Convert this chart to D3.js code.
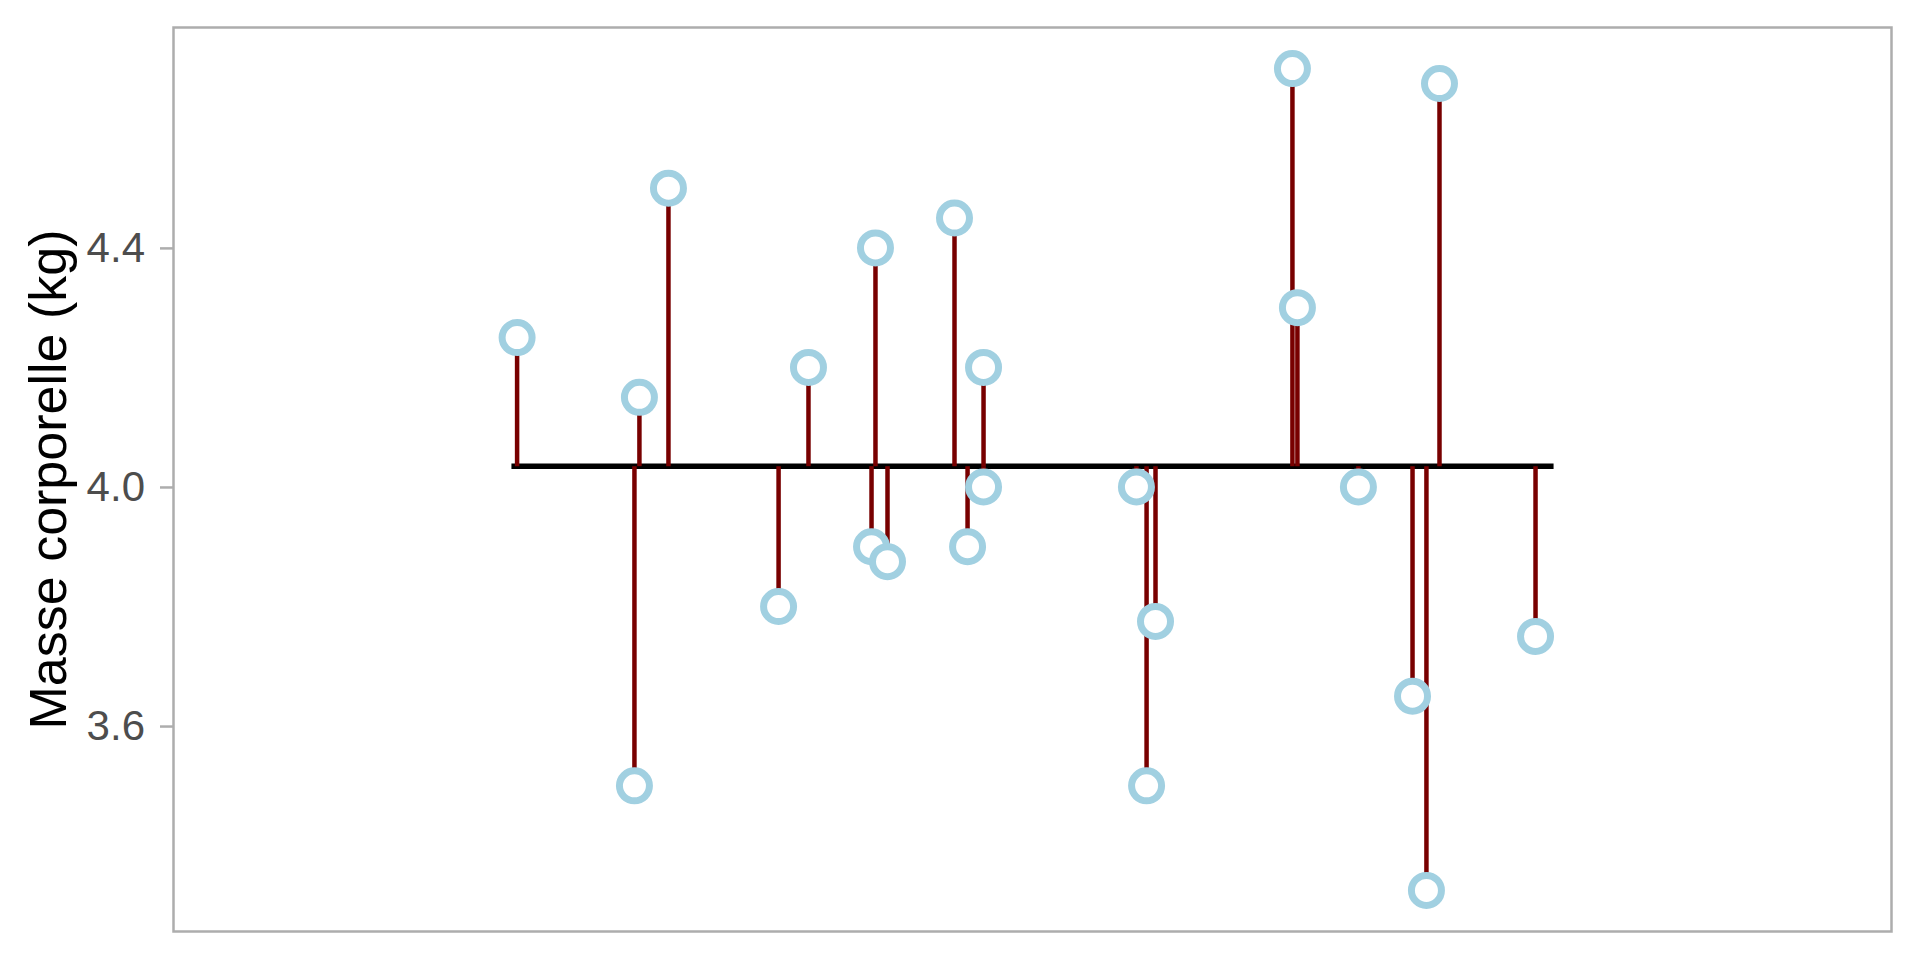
<!DOCTYPE html>
<html>
<head>
<meta charset="utf-8">
<script src="https://cdn.jsdelivr.net/npm/d3@7"></script>
<style>
    body { margin: 0; background: white; }
    svg { display: block; font-family: "Liberation Sans", Arial, sans-serif; }
    .axis text { fill: #4d4d4d; font-size: 42px; }
    .axis line { stroke: #adadad; stroke-width: 2.5px; }
</style>
</head>
<body>
<div id="chart"></div>
<script>

// Body mass of each individual (kg) and its position along the (unlabelled) x variable
let xValues = [20.0, 26.83, 27.12, 28.81, 35.22, 36.96, 40.63, 40.86, 41.56, 45.46, 46.22, 47.15,
    47.15, 56.05, 56.64, 57.16, 65.13, 65.42, 68.97, 72.12, 72.93, 73.69, 79.28];
let masses = [4.25, 3.5, 4.15, 4.5, 3.8, 4.2, 3.9, 4.4, 3.875, 4.45, 3.9, 4.2,
    4.0, 4.0, 3.5, 3.775, 4.7, 4.3, 4.0, 3.65, 3.325, 4.675, 3.75];

let xLimits = [0, 100];
let meanLineX = [19.67, 80.33];
let yTicks = [3.6, 4.0, 4.4];
let yTitle = "Masse corporelle (kg)";

let chart = {
    width : 1920,
    height : 960,
    panel : { left: 173.5, top: 27.5, right: 1891.5, bottom: 931.5 }
};

let data = xValues.map(function (x, i) {
    return {x: x, mass: masses[i]};
});
let meanMass = d3.mean(masses);

let svg = d3.select("#chart")
    .append("svg")
    .attr("width", chart.width)
    .attr("height", chart.height);

// Scales (y expanded by 5% like ggplot)
let extent = d3.extent(masses);
let pad = (extent[1] - extent[0]) * 0.05;

let xScale = d3.scaleLinear()
    .domain(xLimits)
    .range([chart.panel.left, chart.panel.right]);

let yScale = d3.scaleLinear()
    .domain([extent[0] - pad, extent[1] + pad])
    .range([chart.panel.bottom, chart.panel.top]);

// Panel border
svg.append("rect")
    .attr("x", chart.panel.left)
    .attr("y", chart.panel.top)
    .attr("width", chart.panel.right - chart.panel.left)
    .attr("height", chart.panel.bottom - chart.panel.top)
    .attr("fill", "none")
    .attr("stroke", "#adadad")
    .attr("stroke-width", 2.5);

// Y axis
let yAxis = svg.append("g")
    .attr("class", "axis")
    .attr("transform", "translate(" + (chart.panel.left - 0.5) + ",0)")
    .call(d3.axisLeft(yScale)
        .tickValues(yTicks)
        .tickFormat(d3.format(".1f"))
        .tickSize(13)
        .tickPadding(15));
yAxis.select(".domain").remove();

svg.append("text")
    .attr("transform", "translate(66," + ((chart.panel.top + chart.panel.bottom) / 2) + ") rotate(-90)")
    .attr("text-anchor", "middle")
    .attr("font-size", 52)
    .attr("fill", "black")
    .text(yTitle);

// Mean line
svg.append("line")
    .attr("x1", xScale(meanLineX[0]))
    .attr("x2", xScale(meanLineX[1]))
    .attr("y1", yScale(meanMass))
    .attr("y2", yScale(meanMass))
    .attr("stroke", "black")
    .attr("stroke-width", 5.5);

// Segments from the mean to each value
svg.append("g")
    .selectAll("line")
    .data(data)
    .enter()
    .append("line")
    .attr("x1", function (d) { return xScale(d.x) })
    .attr("x2", function (d) { return xScale(d.x) })
    .attr("y1", yScale(meanMass))
    .attr("y2", function (d) { return yScale(d.mass) })
    .attr("stroke", "#780000")
    .attr("stroke-width", 4.5);

// Points
svg.append("g")
    .selectAll("circle")
    .data(data)
    .enter()
    .append("circle")
    .attr("cx", function (d) { return xScale(d.x) })
    .attr("cy", function (d) { return yScale(d.mass) })
    .attr("r", 15)
    .attr("fill", "white")
    .attr("stroke", "#a1d0e1")
    .attr("stroke-width", 7);

</script>
</body>
</html>
